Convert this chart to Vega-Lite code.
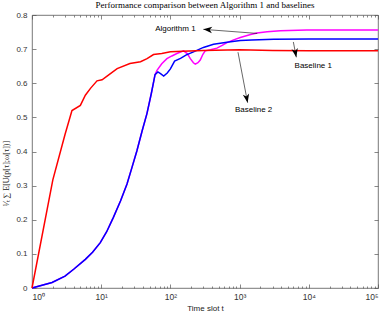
{
  "$schema": "https://vega.github.io/schema/vega-lite/v6.json",
  "width": 346,
  "height": 273,
  "autosize": "none",
  "padding": {"left": 32, "top": 15, "right": 8, "bottom": 31},
  "background": "white",
  "title": {"text": "Performance comparison between Algorithm 1 and baselines", "font": "Liberation Serif", "fontSize": 9, "fontWeight": "normal", "color": "#000", "offset": 1},
  "config": {
    "view": {"stroke": "#555", "strokeWidth": 0.8},
    "axis": {"domain": false, "grid": false, "labelFont": "Liberation Sans", "labelFontSize": 8, "labelColor": "#333", "tickColor": "#555", "tickWidth": 0.7, "titleColor": "#222", "titleFontWeight": "normal"}
  },
  "datasets": {
    "lines": [
      {"series": "Algorithm 1", "t": 1, "v": 0},
      {"series": "Algorithm 1", "t": 1.95, "v": 0.016},
      {"series": "Algorithm 1", "t": 3, "v": 0.035},
      {"series": "Algorithm 1", "t": 4, "v": 0.055},
      {"series": "Algorithm 1", "t": 5.9, "v": 0.084},
      {"series": "Algorithm 1", "t": 7.5, "v": 0.105},
      {"series": "Algorithm 1", "t": 9.7, "v": 0.133},
      {"series": "Algorithm 1", "t": 12, "v": 0.165},
      {"series": "Algorithm 1", "t": 15, "v": 0.207},
      {"series": "Algorithm 1", "t": 19, "v": 0.255},
      {"series": "Algorithm 1", "t": 23.6, "v": 0.305},
      {"series": "Algorithm 1", "t": 28, "v": 0.355},
      {"series": "Algorithm 1", "t": 32.9, "v": 0.403},
      {"series": "Algorithm 1", "t": 39, "v": 0.46},
      {"series": "Algorithm 1", "t": 45.8, "v": 0.511},
      {"series": "Algorithm 1", "t": 53, "v": 0.57},
      {"series": "Algorithm 1", "t": 60, "v": 0.625},
      {"series": "Algorithm 1", "t": 64, "v": 0.638},
      {"series": "Algorithm 1", "t": 75, "v": 0.657},
      {"series": "Algorithm 1", "t": 89, "v": 0.672},
      {"series": "Algorithm 1", "t": 105, "v": 0.68},
      {"series": "Algorithm 1", "t": 124, "v": 0.687},
      {"series": "Algorithm 1", "t": 155, "v": 0.695},
      {"series": "Algorithm 1", "t": 175, "v": 0.687},
      {"series": "Algorithm 1", "t": 194, "v": 0.672},
      {"series": "Algorithm 1", "t": 215, "v": 0.66},
      {"series": "Algorithm 1", "t": 229, "v": 0.656},
      {"series": "Algorithm 1", "t": 250, "v": 0.66},
      {"series": "Algorithm 1", "t": 270, "v": 0.668},
      {"series": "Algorithm 1", "t": 295, "v": 0.685},
      {"series": "Algorithm 1", "t": 318, "v": 0.695},
      {"series": "Algorithm 1", "t": 380, "v": 0.698},
      {"series": "Algorithm 1", "t": 470, "v": 0.703},
      {"series": "Algorithm 1", "t": 560, "v": 0.711},
      {"series": "Algorithm 1", "t": 657, "v": 0.719},
      {"series": "Algorithm 1", "t": 820, "v": 0.727},
      {"series": "Algorithm 1", "t": 1023, "v": 0.734},
      {"series": "Algorithm 1", "t": 1400, "v": 0.742},
      {"series": "Algorithm 1", "t": 1780, "v": 0.747},
      {"series": "Algorithm 1", "t": 2500, "v": 0.751},
      {"series": "Algorithm 1", "t": 3870, "v": 0.754},
      {"series": "Algorithm 1", "t": 9370, "v": 0.756},
      {"series": "Algorithm 1", "t": 100000, "v": 0.756},
      {"series": "Baseline 1", "t": 1, "v": 0},
      {"series": "Baseline 1", "t": 1.95, "v": 0.016},
      {"series": "Baseline 1", "t": 3, "v": 0.035},
      {"series": "Baseline 1", "t": 4, "v": 0.055},
      {"series": "Baseline 1", "t": 5.9, "v": 0.084},
      {"series": "Baseline 1", "t": 7.5, "v": 0.105},
      {"series": "Baseline 1", "t": 9.7, "v": 0.133},
      {"series": "Baseline 1", "t": 12, "v": 0.165},
      {"series": "Baseline 1", "t": 15, "v": 0.207},
      {"series": "Baseline 1", "t": 19, "v": 0.255},
      {"series": "Baseline 1", "t": 23.6, "v": 0.305},
      {"series": "Baseline 1", "t": 28, "v": 0.355},
      {"series": "Baseline 1", "t": 32.9, "v": 0.403},
      {"series": "Baseline 1", "t": 39, "v": 0.46},
      {"series": "Baseline 1", "t": 45.8, "v": 0.511},
      {"series": "Baseline 1", "t": 53, "v": 0.57},
      {"series": "Baseline 1", "t": 60, "v": 0.625},
      {"series": "Baseline 1", "t": 66, "v": 0.633},
      {"series": "Baseline 1", "t": 72, "v": 0.628},
      {"series": "Baseline 1", "t": 80, "v": 0.621},
      {"series": "Baseline 1", "t": 90, "v": 0.63},
      {"series": "Baseline 1", "t": 100, "v": 0.642},
      {"series": "Baseline 1", "t": 115, "v": 0.665},
      {"series": "Baseline 1", "t": 140, "v": 0.673},
      {"series": "Baseline 1", "t": 170, "v": 0.683},
      {"series": "Baseline 1", "t": 216, "v": 0.692},
      {"series": "Baseline 1", "t": 300, "v": 0.705},
      {"series": "Baseline 1", "t": 420, "v": 0.714},
      {"series": "Baseline 1", "t": 657, "v": 0.72},
      {"series": "Baseline 1", "t": 1023, "v": 0.725},
      {"series": "Baseline 1", "t": 1500, "v": 0.727},
      {"series": "Baseline 1", "t": 3100, "v": 0.729},
      {"series": "Baseline 1", "t": 10000, "v": 0.73},
      {"series": "Baseline 1", "t": 100000, "v": 0.73},
      {"series": "Baseline 2", "t": 1, "v": 0},
      {"series": "Baseline 2", "t": 2, "v": 0.317},
      {"series": "Baseline 2", "t": 3, "v": 0.45},
      {"series": "Baseline 2", "t": 3.78, "v": 0.52},
      {"series": "Baseline 2", "t": 5, "v": 0.535},
      {"series": "Baseline 2", "t": 5.9, "v": 0.565},
      {"series": "Baseline 2", "t": 7, "v": 0.585},
      {"series": "Baseline 2", "t": 8.7, "v": 0.607},
      {"series": "Baseline 2", "t": 10.3, "v": 0.61},
      {"series": "Baseline 2", "t": 13, "v": 0.625},
      {"series": "Baseline 2", "t": 17, "v": 0.643},
      {"series": "Baseline 2", "t": 26, "v": 0.658},
      {"series": "Baseline 2", "t": 37, "v": 0.663},
      {"series": "Baseline 2", "t": 46, "v": 0.672},
      {"series": "Baseline 2", "t": 57, "v": 0.684},
      {"series": "Baseline 2", "t": 75, "v": 0.687},
      {"series": "Baseline 2", "t": 100, "v": 0.692},
      {"series": "Baseline 2", "t": 150, "v": 0.694},
      {"series": "Baseline 2", "t": 300, "v": 0.696},
      {"series": "Baseline 2", "t": 1000, "v": 0.698},
      {"series": "Baseline 2", "t": 3000, "v": 0.696},
      {"series": "Baseline 2", "t": 10000, "v": 0.695},
      {"series": "Baseline 2", "t": 100000, "v": 0.695}
    ],
    "arrows": [
      {"name": "Algorithm 1", "x": 1800, "y": 0.746, "x2": 299, "y2": 0.758},
      {"name": "Baseline 1", "x": 5980, "y": 0.721, "x2": 6600, "y2": 0.676},
      {"name": "Baseline 2", "x": 948, "y": 0.691, "x2": 1306, "y2": 0.543}
    ],
    "labels": [
      {"text": "Algorithm 1", "x": 118, "y": 0.759},
      {"text": "Baseline 1", "x": 11600, "y": 0.652},
      {"text": "Baseline 2", "x": 1593, "y": 0.522}
    ]
  },
  "layer": [
    {
      "data": {"name": "lines"},
      "mark": {"type": "line", "strokeWidth": 1.5},
      "encoding": {
        "x": {"field": "t", "type": "quantitative", "scale": {"type": "log", "domain": [1, 100000], "nice": false},
          "axis": {"orient": "bottom", "values": [1, 10, 100, 1000, 10000, 100000], "tickSize": -4, "labelPadding": 8, "labelFontSize": 8.5,
            "labelExpr": "'10' + ['⁰','¹','²','³','⁴','⁵'][round(log(datum.value)/LN10)]",
            "title": "Time slot t", "titleFont": "Liberation Sans", "titleFontSize": 8, "titlePadding": 4}},
        "y": {"field": "v", "type": "quantitative", "scale": {"domain": [0, 0.8], "nice": false},
          "axis": {"orient": "left", "values": [0, 0.1, 0.2, 0.3, 0.4, 0.5, 0.6, 0.7, 0.8], "format": ".1~f", "tickSize": -4, "labelPadding": 9,
            "title": "¹⁄ₜ ∑ E[U(p[τ];ω[τ])]", "titleFont": "Liberation Serif", "titleFontSize": 8, "titleX": -22, "titleY": 158}},
        "color": {"field": "series", "type": "nominal", "scale": {"domain": ["Algorithm 1", "Baseline 1", "Baseline 2"], "range": ["#ff00ff", "#0000ff", "#ff0000"]}, "legend": null}
      }
    },
    {
      "data": {"name": "arrows"},
      "mark": {"type": "rule", "color": "#000", "strokeWidth": 0.6},
      "encoding": {
        "x": {"field": "x", "type": "quantitative", "axis": {"orient": "bottom", "values": [2,3,4,5,6,7,8,9,20,30,40,50,60,70,80,90,200,300,400,500,600,700,800,900,2000,3000,4000,5000,6000,7000,8000,9000,20000,30000,40000,50000,60000,70000,80000,90000], "tickSize": -2, "labels": false, "title": null}},
        "x2": {"field": "x2"},
        "y": {"field": "y", "type": "quantitative", "axis": {"orient": "right", "values": [0, 0.1, 0.2, 0.3, 0.4, 0.5, 0.6, 0.7, 0.8], "tickSize": -4, "labels": false, "title": null}},
        "y2": {"field": "y2"}
      }
    },
    {
      "data": {"name": "arrows"},
      "transform": [{"filter": "datum.name == 'Algorithm 1'"}],
      "mark": {"type": "point", "shape": "M0,0L0.8,2.2L0,1.6L-0.8,2.2Z", "filled": true, "color": "#000", "size": 64, "opacity": 1, "angle": 274},
      "encoding": {
        "x": {"field": "x2", "type": "quantitative", "axis": {"orient": "top", "values": [1, 10, 100, 1000, 10000, 100000], "tickSize": -4, "labels": false, "title": null}},
        "y": {"field": "y2", "type": "quantitative", "axis": null}
      }
    },
    {
      "data": {"name": "arrows"},
      "transform": [{"filter": "datum.name != 'Algorithm 1'"}],
      "mark": {"type": "point", "shape": "M0,0L0.8,2.2L0,1.6L-0.8,2.2Z", "filled": true, "color": "#000", "size": 64, "opacity": 1, "angle": 169},
      "encoding": {
        "x": {"field": "x2", "type": "quantitative", "axis": {"orient": "top", "values": [2,3,4,5,6,7,8,9,20,30,40,50,60,70,80,90,200,300,400,500,600,700,800,900,2000,3000,4000,5000,6000,7000,8000,9000,20000,30000,40000,50000,60000,70000,80000,90000], "tickSize": -2, "labels": false, "title": null}},
        "y": {"field": "y2", "type": "quantitative", "axis": null}
      }
    },
    {
      "data": {"name": "labels"},
      "mark": {"type": "text", "font": "Liberation Sans", "fontSize": 8, "color": "#000"},
      "encoding": {
        "x": {"field": "x", "type": "quantitative", "axis": null},
        "y": {"field": "y", "type": "quantitative", "axis": null},
        "text": {"field": "text"}
      }
    }
  ],
  "resolve": {"axis": {"x": "independent", "y": "independent"}}
}
